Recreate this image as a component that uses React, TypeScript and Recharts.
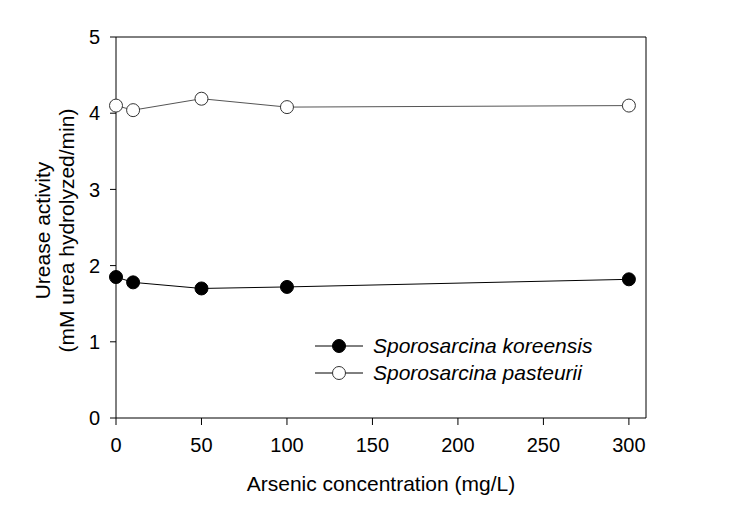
import { Line, LineChart, XAxis, YAxis, ReferenceLine } from 'recharts'

const arsenic = [0, 10, 50, 100, 300]
const koreensis = [1.85, 1.78, 1.7, 1.72, 1.82]
const pasteurii = [4.1, 4.04, 4.19, 4.08, 4.1]
const xTicks = [0, 50, 100, 150, 200, 250, 300]
const yTicks = [0, 1, 2, 3, 4, 5]
const seriesNames = ['Sporosarcina koreensis', 'Sporosarcina pasteurii']

const data = arsenic.map((x, i) => ({ x, kor: koreensis[i], pas: pasteurii[i] }))

const FONT = 'Arial, "Liberation Sans", sans-serif'

function YTitle({ viewBox }: any) {
  const cy = viewBox.y + viewBox.height / 2 + 3
  return (
    <g fontFamily={FONT} fontSize={21} fill="#000">
      <text x={50} y={cy} transform={`rotate(-90 50 ${cy})`} textAnchor="middle">
        Urease activity
      </text>
      <text x={74} y={cy} transform={`rotate(-90 74 ${cy})`} textAnchor="middle">
        (mM urea hydrolyzed/min)
      </text>
    </g>
  )
}

function LegendBox() {
  const rows = [
    { name: seriesNames[0], fill: '#000', stroke: '#000' },
    { name: seriesNames[1], fill: '#fff', stroke: '#333' },
  ]
  return (
    <svg width={320} height={60} style={{ position: 'absolute', left: 315, top: 334, overflow: 'visible' }}>
      {rows.map((r, i) => (
        <g key={r.name} transform={`translate(0, ${i * 27 + 12})`}>
          <line x1={0} x2={48} y1={0} y2={0} stroke="#000" strokeWidth={1} />
          <circle cx={24} cy={0} r={6.5} fill={r.fill} stroke={r.stroke} strokeWidth={1} />
          <text x={58} y={7} fontFamily={FONT} fontSize={21} fontStyle="italic" fill="#000">
            {r.name}
          </text>
        </g>
      ))}
    </svg>
  )
}

export default function App() {
  return (
    <div style={{ position: 'absolute', left: 0, top: 0, width: 729, height: 505, background: '#fff' }}>
      <LineChart
        width={729}
        height={505}
        data={data}
        margin={{ top: 37, right: 83, left: 0, bottom: 0 }}
      >
        <XAxis
          dataKey="x"
          type="number"
          domain={[0, 310]}
          ticks={xTicks}
          tickSize={7}
          tickMargin={13}
          height={87}
          stroke="#000"
          tick={{ fill: '#000', fontSize: 20, fontFamily: FONT }}
          label={{
            value: 'Arsenic concentration (mg/L)',
            position: 'insideBottom',
            offset: 14,
            fill: '#000',
            fontSize: 21,
            fontFamily: FONT,
          }}
        />
        <YAxis
          type="number"
          domain={[0, 5]}
          ticks={yTicks}
          tickSize={6}
          tickMargin={10}
          width={116}
          stroke="#000"
          tick={{ fill: '#000', fontSize: 20, fontFamily: FONT }}
          label={<YTitle />}
        />
        <ReferenceLine y={5} stroke="#000" ifOverflow="visible" />
        <ReferenceLine x={310} stroke="#000" ifOverflow="visible" />
        <Line
          dataKey="kor"
          stroke="#000"
          strokeWidth={1}
          isAnimationActive={false}
          dot={{ r: 6.5, fill: '#000', stroke: '#000', strokeWidth: 1 }}
        />
        <Line
          dataKey="pas"
          stroke="#555"
          strokeWidth={1}
          isAnimationActive={false}
          dot={{ r: 6.5, fill: '#fff', stroke: '#333', strokeWidth: 1 }}
        />
      </LineChart>
      <LegendBox />
    </div>
  )
}
